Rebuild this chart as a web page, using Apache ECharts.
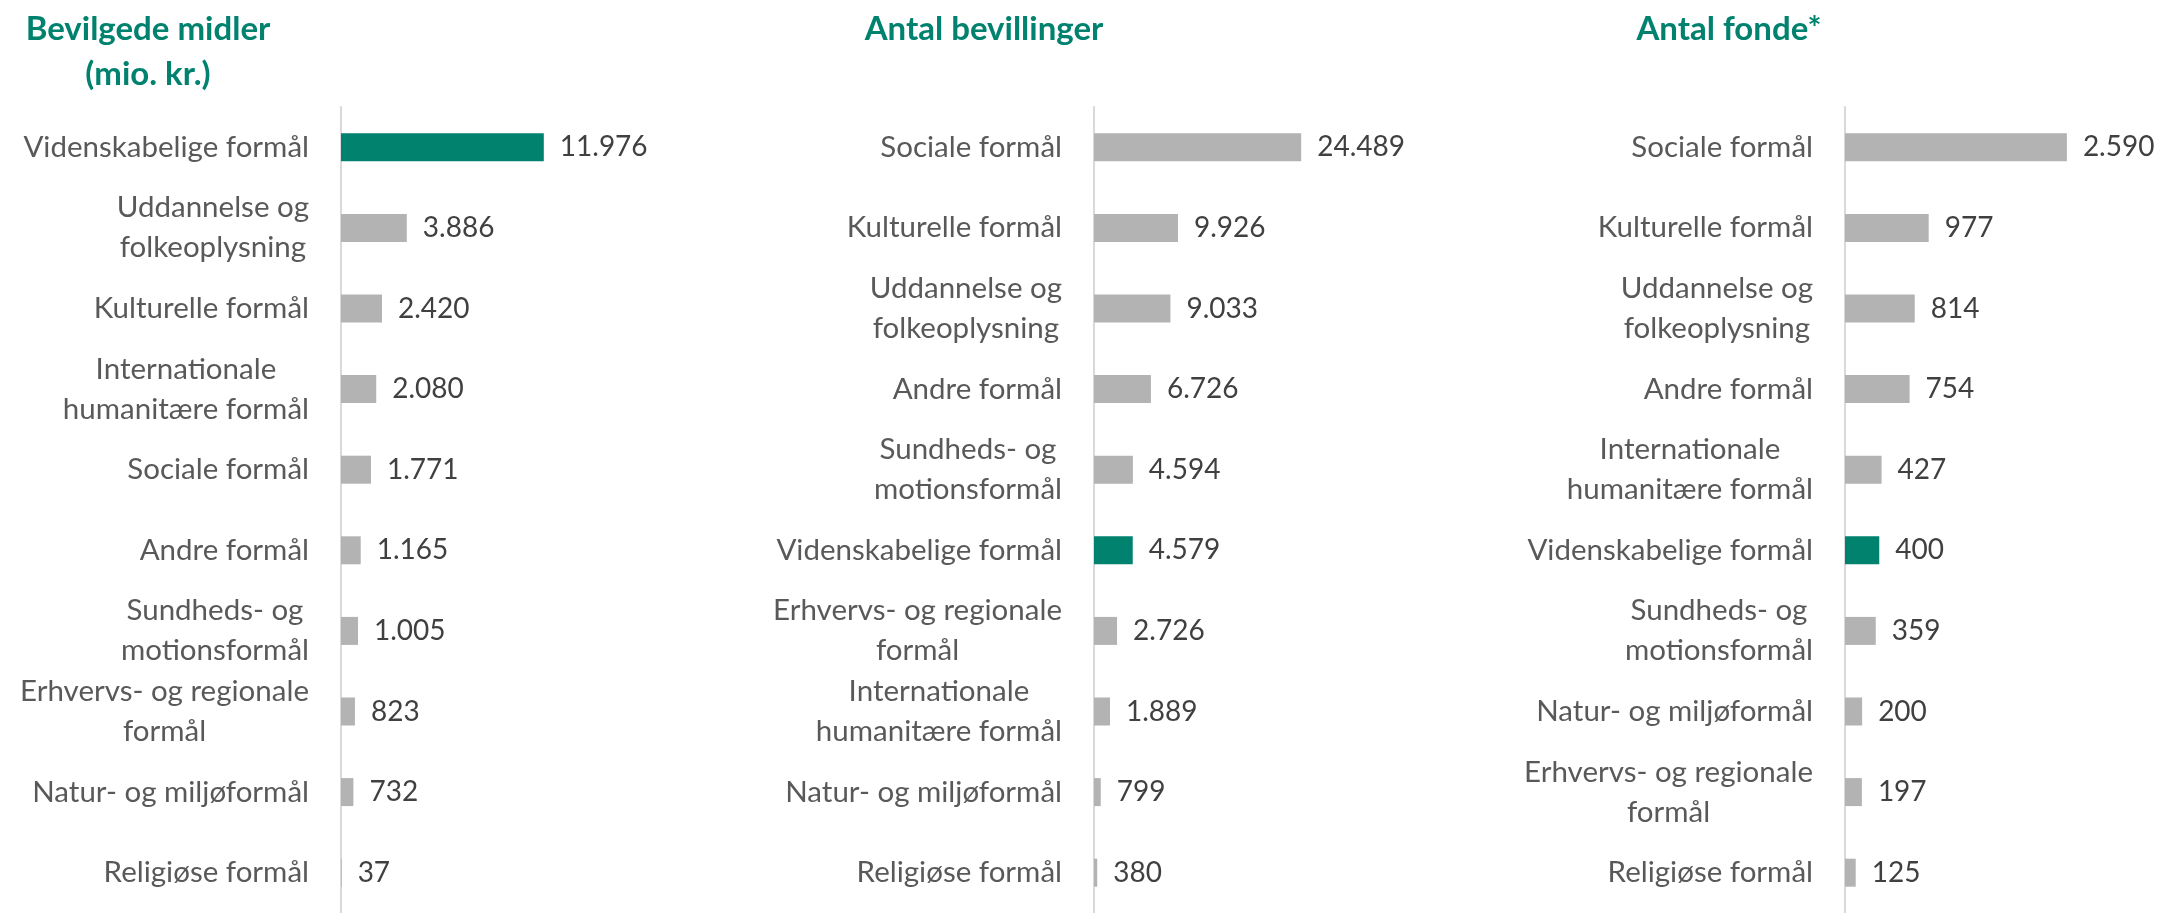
<!DOCTYPE html>
<html>
<head>
<meta charset="utf-8">
<script src="https://cdn.jsdelivr.net/npm/echarts@6/dist/echarts.min.js"></script>
<style>
  html, body { margin: 0; padding: 0; background: #fff; }
  #chart { width: 2180px; height: 913px; }
</style>
</head>
<body>
<div id="chart"></div>
<script>
// bevilgede midler (mio. kr.)
const cats1 = ["Videnskabelige formål", "Uddannelse og\nfolkeoplysning", "Kulturelle formål", "Internationale\nhumanitære formål", "Sociale formål", "Andre formål", "Sundheds- og\nmotionsformål", "Erhvervs- og regionale\nformål", "Natur- og miljøformål", "Religiøse formål"];
const vals1 = [11976, 3886, 2420, 2080, 1771, 1165, 1005, 823, 732, 37];

// antal bevillinger
const cats2 = ["Sociale formål", "Kulturelle formål", "Uddannelse og\nfolkeoplysning", "Andre formål", "Sundheds- og\nmotionsformål", "Videnskabelige formål", "Erhvervs- og regionale\nformål", "Internationale\nhumanitære formål", "Natur- og miljøformål", "Religiøse formål"];
const vals2 = [24489, 9926, 9033, 6726, 4594, 4579, 2726, 1889, 799, 380];

// antal fonde
const cats3 = ["Sociale formål", "Kulturelle formål", "Uddannelse og\nfolkeoplysning", "Andre formål", "Internationale\nhumanitære formål", "Videnskabelige formål", "Sundheds- og\nmotionsformål", "Natur- og miljøformål", "Erhvervs- og regionale\nformål", "Religiøse formål"];
const vals3 = [2590, 977, 814, 754, 427, 400, 359, 200, 197, 125];

const titles = ["Bevilgede midler\n(mio. kr.)", "Antal bevillinger", "Antal fonde*"];

const TEAL = "#00826f";
const GREY = "#b3b3b3";
const FONT = "Lato";

// dansk tusindtals-separator
function fmt(v) {
  return String(v).replace(/\B(?=(\d{3})+(?!\d))/g, ".");
}

const panels = [
  { cats: cats1, vals: vals1, left: 341, width: 508, max: 30000, titleX: 143 },
  { cats: cats2, vals: vals2, left: 1094, width: 423, max: 50000, titleX: 979 },
  { cats: cats3, vals: vals3, left: 1845, width: 257, max: 3000, titleX: 1724 },
];

const chart = echarts.init(document.getElementById("chart"));

const option = {
  animation: false,
  title: panels.map((p, i) => ({
    text: titles[i],
    left: p.titleX,
    top: 2,
    textAlign: "center",
    textStyle: {
      color: TEAL,
      fontFamily: FONT,
      fontWeight: "bold",
      fontSize: 33,
      lineHeight: 45,
    },
  })),
  grid: panels.map((p) => ({
    left: p.left,
    width: p.width,
    top: 107,
    height: 809,
    containLabel: false,
  })),
  xAxis: panels.map((p, i) => ({
    type: "value",
    gridIndex: i,
    min: 0,
    max: p.max,
    show: false,
  })),
  yAxis: panels.map((p, i) => ({
    type: "category",
    gridIndex: i,
    data: p.cats,
    inverse: true,
    axisLine: { show: true, lineStyle: { color: "#d9d9d9", width: 2 } },
    axisTick: { show: false },
    axisLabel: {
      margin: 32,
      formatter: (v) => v.split("\n").map((s) => "{c|" + s + "}").join("\n"),
      rich: {
        c: {
          align: "center",
          color: "#595959",
          fontFamily: FONT,
          fontSize: 29.5,
          lineHeight: 40,
        },
      },
    },
  })),
  series: panels.map((p, i) => ({
    type: "bar",
    xAxisIndex: i,
    yAxisIndex: i,
    barWidth: 28,
    data: p.vals.map((v, j) => ({
      value: v,
      itemStyle: { color: p.cats[j] === "Videnskabelige formål" ? TEAL : GREY },
    })),
    label: {
      show: true,
      position: "right",
      distance: 16,
      color: "#404040",
      fontFamily: FONT,
      fontSize: 28,
      formatter: (d) => fmt(d.value),
    },
  })),
};

chart.setOption(option);
</script>
</body>
</html>
